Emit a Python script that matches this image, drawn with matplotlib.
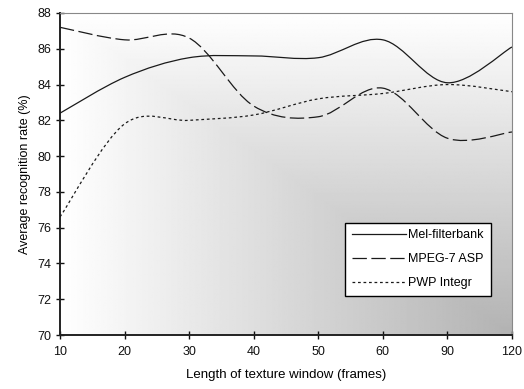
"""Recognition rate vs. texture window length (smoothed lines, Excel style)."""

import matplotlib
matplotlib.use('Agg')
import matplotlib.pyplot as plt
import numpy as np
from matplotlib.path import Path
from matplotlib.patches import PathPatch
from matplotlib.lines import Line2D

plt.rcParams['font.family'] = ['Liberation Sans', 'DejaVu Sans']

window_labels = ['10', '20', '30', '40', '50', '60', '90', '120']
mel_filterbank = [82.4, 84.4, 85.5, 85.6, 85.5, 86.5, 84.1, 86.1]
mpeg7_asp = [87.2, 86.5, 86.6, 82.8, 82.2, 83.8, 81.0, 81.35]
pwp_integr = [76.6, 81.8, 82.0, 82.3, 83.2, 83.5, 84.0, 83.6]

series = [
    ('Mel-filterbank', mel_filterbank, '-'),
    ('MPEG-7 ASP', mpeg7_asp, (0, (11.5, 3.6))),
    ('PWP Integr', pwp_integr, (0, (2.2, 2.2))),
]
LINE_COLOR = '#1a1a1a'


def smooth_path(xs, ys):
    """Excel-like smoothed line: cubic Bezier through the points."""
    pts = np.column_stack([xs, ys]).astype(float)
    ext = np.vstack([pts[0], pts, pts[-1]])
    verts = [pts[0]]
    codes = [Path.MOVETO]
    for i in range(len(pts) - 1):
        p0, p1, p2, p3 = ext[i], ext[i + 1], ext[i + 2], ext[i + 3]
        c1 = p1 + (p2 - p0) / 6.0
        c2 = p2 - (p3 - p1) / 6.0
        verts += [c1, c2, p2]
        codes += [Path.CURVE4] * 3
    return Path(verts, codes)


fig = plt.figure(figsize=(5.24, 3.89), dpi=100)
ax = fig.add_axes([0.1145, 0.1388, 0.8625, 0.8278])

x = np.arange(len(window_labels))
ax.set_xlim(x[0], x[-1])
ax.set_ylim(70, 88)

# corner gradient background: light along top and left, grey at bottom right
u = np.linspace(0, 1, 300)[None, :]
v = np.linspace(0, 1, 300)[:, None]
shade = 1 - 0.30 * np.minimum(u, v)
ax.imshow(shade, cmap='gray', vmin=0, vmax=1, extent=[x[0], x[-1], 70, 88],
          origin='upper', aspect='auto', zorder=0, interpolation='bilinear')

handles = []
for label, vals, ls in series:
    patch = PathPatch(smooth_path(x, vals), facecolor='none', edgecolor=LINE_COLOR,
                      linewidth=0.9, linestyle=ls, zorder=3)
    ax.add_patch(patch)
    handles.append(Line2D([], [], color=LINE_COLOR, linewidth=0.9, linestyle=ls))

ax.set_xticks(x)
ax.set_xticklabels(window_labels)
ax.set_yticks(np.arange(70, 89, 2))
ax.tick_params(direction='inout', length=6, width=1, labelsize=9, colors='#111111')
ax.tick_params(axis='x', pad=5)
ax.tick_params(axis='y', pad=3)

for side in ('left', 'bottom'):
    ax.spines[side].set_color('#222222')
    ax.spines[side].set_linewidth(1.4)
for side in ('top', 'right'):
    ax.spines[side].set_color('#888888')
    ax.spines[side].set_linewidth(0.8)

ax.set_xlabel('Length of texture window (frames)', fontsize=9.5, labelpad=8)
ax.set_ylabel('Average recognition rate (%)', fontsize=9, labelpad=5)

leg = ax.legend(handles, [s[0] for s in series], loc='lower right',
                bbox_to_anchor=(0.953, 0.121), fontsize=9, fancybox=False,
                framealpha=1, edgecolor='black', handlelength=4.3,
                handletextpad=0.2, borderpad=0.55, labelspacing=0.95,
                borderaxespad=0)
leg.get_frame().set_linewidth(1.0)

fig.savefig('out.png', dpi=100)
plt.close(fig)
